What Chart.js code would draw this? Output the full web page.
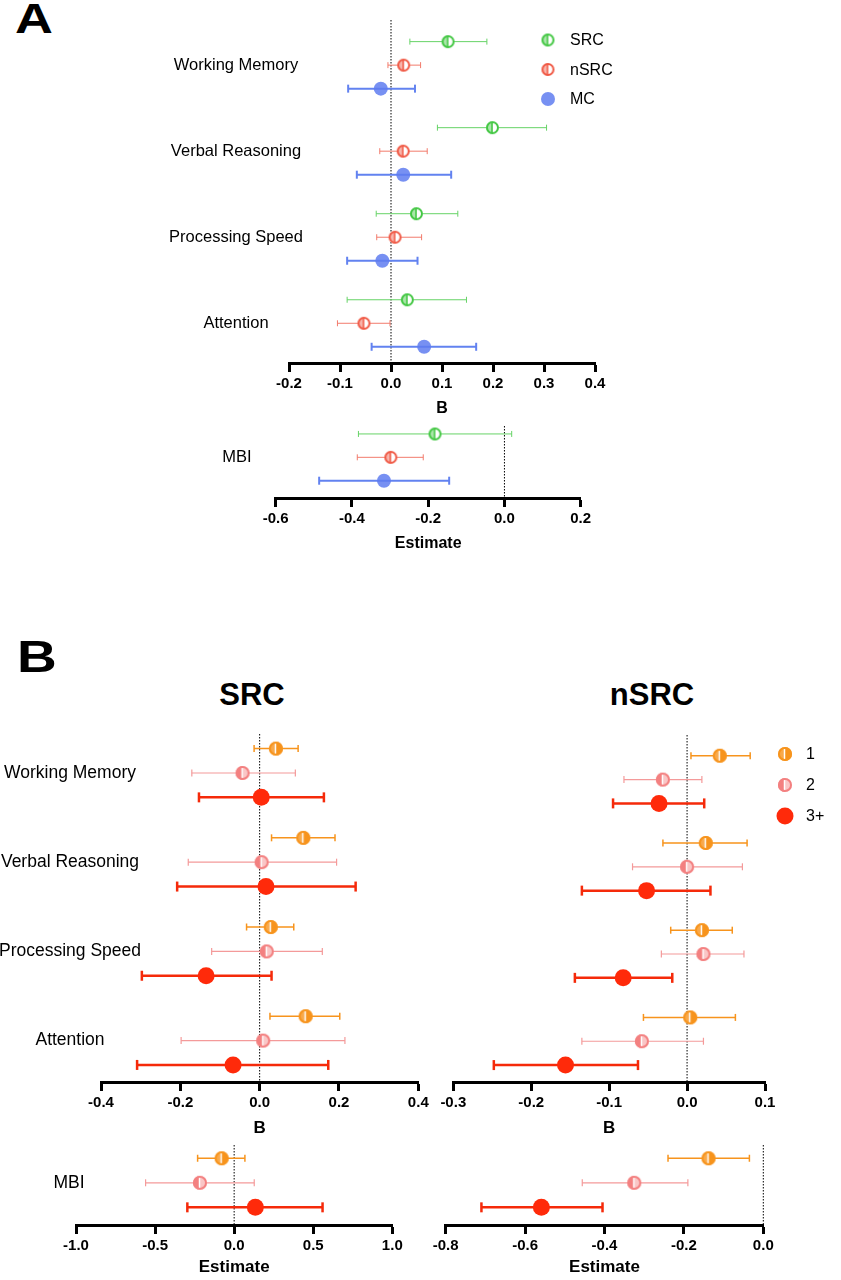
<!DOCTYPE html>
<html><head><meta charset="utf-8">
<script src="https://cdn.jsdelivr.net/npm/chart.js@4/dist/chart.umd.min.js"></script>
<style>
body{margin:0;background:#fff;width:841px;height:1280px;position:relative;overflow:hidden;font-family:"Liberation Sans",Arial,Helvetica,sans-serif;}
canvas{position:absolute;}
.lbl{position:absolute;font-weight:bold;color:#000;line-height:1.2;white-space:nowrap;}
.big{transform:scaleX(1.25);transform-origin:left top;}
</style></head><body>
<div class="lbl big" style="left:15px;top:-6px;font-size:42px">A</div>
<div class="lbl big" style="left:17px;top:631px;font-size:44px">B</div>
<div class="lbl" style="left:152px;width:200px;text-align:center;top:676px;font-size:31px">SRC</div>
<div class="lbl" style="left:552px;width:200px;text-align:center;top:676px;font-size:31px">nSRC</div>
<script>
const FONT = '"Liberation Sans", Arial, Helvetica, sans-serif';

// ---------- categories / series ----------
const categories = ['Working Memory', 'Verbal Reasoning', 'Processing Speed', 'Attention'];
const mbiCategory = ['MBI'];
const seriesA = ['SRC', 'nSRC', 'MC'];
const seriesB = ['1', '2', '3+'];

// ---------- Panel A: cognitive domains (B) ----------
const aSrcEst  = [0.112, 0.199, 0.050, 0.032];
const aSrcLo   = [0.037, 0.091, -0.029, -0.086];
const aSrcHi   = [0.188, 0.305, 0.131, 0.148];
const aNsrcEst = [0.025, 0.024, 0.008, -0.053];
const aNsrcLo  = [-0.006, -0.022, -0.028, -0.105];
const aNsrcHi  = [0.058, 0.071, 0.060, -0.002];
const aMcEst   = [-0.020, 0.024, -0.017, 0.065];
const aMcLo    = [-0.084, -0.067, -0.086, -0.038];
const aMcHi    = [0.047, 0.118, 0.052, 0.167];

// ---------- Panel A: MBI (Estimate) ----------
const aMbiSrcEst = [-0.182],  aMbiSrcLo = [-0.383],  aMbiSrcHi = [0.019];
const aMbiNsrcEst = [-0.298], aMbiNsrcLo = [-0.386], aMbiNsrcHi = [-0.213];
const aMbiMcEst = [-0.316],   aMbiMcLo = [-0.486],   aMbiMcHi = [-0.145];

// ---------- Panel B: SRC by number of concussions ----------
const bSrc1Est = [0.041, 0.110, 0.028, 0.116];
const bSrc1Lo  = [-0.014, 0.030, -0.033, 0.026];
const bSrc1Hi  = [0.097, 0.190, 0.086, 0.202];
const bSrc2Est = [-0.043, 0.005, 0.018, 0.009];
const bSrc2Lo  = [-0.171, -0.180, -0.121, -0.198];
const bSrc2Hi  = [0.090, 0.194, 0.158, 0.215];
const bSrc3Est = [0.004, 0.016, -0.135, -0.067];
const bSrc3Lo  = [-0.153, -0.208, -0.297, -0.309];
const bSrc3Hi  = [0.162, 0.242, 0.030, 0.173];
const bSrcMbi1Est = [-0.079], bSrcMbi1Lo = [-0.231], bSrcMbi1Hi = [0.068];
const bSrcMbi2Est = [-0.216], bSrcMbi2Lo = [-0.560], bSrcMbi2Hi = [0.127];
const bSrcMbi3Est = [0.134],  bSrcMbi3Lo = [-0.296], bSrcMbi3Hi = [0.559];

// ---------- Panel B: nSRC by number of concussions ----------
const bNsrc1Est = [0.042, 0.024, 0.019, 0.004];
const bNsrc1Lo  = [0.005, -0.031, -0.021, -0.056];
const bNsrc1Hi  = [0.081, 0.077, 0.058, 0.062];
const bNsrc2Est = [-0.031, 0.000, 0.021, -0.058];
const bNsrc2Lo  = [-0.081, -0.070, -0.033, -0.135];
const bNsrc2Hi  = [0.019, 0.071, 0.073, 0.021];
const bNsrc3Est = [-0.036, -0.052, -0.082, -0.156];
const bNsrc3Lo  = [-0.095, -0.135, -0.144, -0.248];
const bNsrc3Hi  = [0.022, 0.030, -0.019, -0.063];
const bNsrcMbi1Est = [-0.138], bNsrcMbi1Lo = [-0.240], bNsrcMbi1Hi = [-0.035];
const bNsrcMbi2Est = [-0.325], bNsrcMbi2Lo = [-0.456], bNsrcMbi2Hi = [-0.190];
const bNsrcMbi3Est = [-0.559], bNsrcMbi3Lo = [-0.710], bNsrcMbi3Hi = [-0.405];

// ---------- tick values ----------
const ticksAMain = [-0.2, -0.1, 0.0, 0.1, 0.2, 0.3, 0.4];
const ticksAMbi  = [-0.6, -0.4, -0.2, 0.0, 0.2];
const ticksBSrc  = [-0.4, -0.2, 0.0, 0.2, 0.4];
const ticksBSrcMbi = [-1.0, -0.5, 0.0, 0.5, 1.0];
const ticksBNsrc = [-0.3, -0.2, -0.1, 0.0, 0.1];
const ticksBNsrcMbi = [-0.8, -0.6, -0.4, -0.2, 0.0];

// ---------- styling ----------
const GROUP_STEP = 3.66;
function rowY(g, s) { return g * GROUP_STEP + s; }

function halfMarker(color, r, leftA, rightA, lineCol) {
  const S = Math.ceil(2 * r + 4);
  const c = document.createElement('canvas');
  c.width = S; c.height = S;
  const x = c.getContext('2d');
  const cx = S / 2, cy = S / 2;
  x.save();
  x.beginPath(); x.arc(cx, cy, r, 0, 2 * Math.PI); x.clip();
  x.fillStyle = '#fff'; x.fillRect(0, 0, S, S);
  x.fillStyle = color;
  x.globalAlpha = leftA; x.fillRect(0, 0, cx, S);
  x.globalAlpha = rightA; x.fillRect(cx, 0, S - cx, S);
  x.restore();
  x.globalAlpha = 1;
  x.strokeStyle = lineCol; x.lineWidth = 1.5;
  x.beginPath(); x.moveTo(cx - 0.5, cy - r + 1.5); x.lineTo(cx - 0.5, cy + r - 1.5); x.stroke();
  x.strokeStyle = color; x.lineWidth = 2;
  x.beginPath(); x.arc(cx, cy, r - 1, 0, 2 * Math.PI); x.stroke();
  return c;
}

const STY = {
  SRC:  { color: '#43c743', marker: halfMarker('#43c743', 6.5, 0.45, 0, '#43c743'), r: 6.5, wCol: '#66d366', w: 1, cap: 3 },
  nSRC: { color: '#f05a46', marker: halfMarker('#f05a46', 6.5, 0.45, 0, '#f05a46'), r: 6.5, wCol: '#f27b6c', w: 1, cap: 3 },
  MC:   { color: 'rgba(95,125,240,0.85)', marker: 'circle', r: 7, wCol: '#6282f0', w: 2, cap: 4 },
  '1':  { color: '#f7941d', marker: halfMarker('#f7941d', 7, 0.8, 1, '#ffffff'), r: 7, wCol: '#f7941d', w: 1.5, cap: 3.5 },
  '2':  { color: '#f38080', marker: halfMarker('#f38080', 7, 1, 0.45, '#ffffff'), r: 7, wCol: '#f49a9a', w: 1.2, cap: 3.5 },
  '3+': { color: '#ff2a0a', marker: 'circle', r: 8.5, wCol: '#f52a0a', w: 2.5, cap: 5 }
};

function fmt(v) { return Number(v).toFixed(1); }

function forestChart(cfg) {
  const H = cfg.axisY + cfg.axisH - cfg.plotTop;
  const cv = document.createElement('canvas');
  cv.width = cfg.canvasWidth; cv.height = H;
  cv.style.left = cfg.canvasLeft + 'px'; cv.style.top = cfg.plotTop + 'px';
  document.body.appendChild(cv);

  const datasets = [];
  datasets.push({
    type: 'line', label: 'zero', data: [{ x: 0, y: cfg.yMin }, { x: 0, y: cfg.yMax }],
    borderColor: '#000', borderWidth: 1, borderDash: [1.5, 1.5], pointRadius: 0, order: 3, clip: false
  });
  cfg.series.forEach((s, si) => {
    const st = STY[s.label];
    const wd = [];
    s.est.forEach((v, i) => {
      const y = rowY(i, si);
      wd.push({ x: s.lo[i], y: y }, { x: s.hi[i], y: y }, { x: null, y: null });
    });
    datasets.push({
      type: 'line', label: s.label + ' CI', data: wd, spanGaps: false,
      borderColor: st.wCol, borderWidth: st.w,
      pointStyle: 'line', pointRotation: 90, pointRadius: st.cap,
      pointBorderColor: st.wCol, pointBorderWidth: st.w, pointBackgroundColor: st.wCol,
      order: 2, clip: false
    });
    datasets.push({
      type: 'line', label: s.label, showLine: false,
      data: s.est.map((v, i) => ({ x: v, y: rowY(i, si) })),
      pointStyle: st.marker, pointRadius: st.r,
      pointBackgroundColor: st.color, pointBorderWidth: 0, pointBorderColor: st.color,
      order: 1, clip: false
    });
  });

  const labelPlugin = {
    id: 'labels',
    afterDraw(chart) {
      const ctx = chart.ctx;
      const ys = chart.scales.y;
      ctx.save();
      ctx.fillStyle = '#000';
      ctx.font = cfg.catFont + 'px ' + FONT;
      ctx.textAlign = 'center'; ctx.textBaseline = 'middle';
      cfg.cats.forEach((c, g) => {
        ctx.fillText(c, cfg.catX - cfg.canvasLeft, ys.getPixelForValue(rowY(g, 1)));
      });
      if (cfg.legend) {
        const L = cfg.legend;
        ctx.font = L.font + 'px ' + FONT;
        ctx.textAlign = 'left';
        cfg.series.forEach((s, i) => {
          const st = STY[s.label];
          const mx = L.x - cfg.canvasLeft, my = L.y - cfg.plotTop + i * L.dy;
          if (st.marker === 'circle') {
            ctx.fillStyle = st.color;
            ctx.beginPath(); ctx.arc(mx, my, st.r, 0, 2 * Math.PI); ctx.fill();
          } else {
            ctx.drawImage(st.marker, mx - st.marker.width / 2, my - st.marker.height / 2);
          }
          ctx.fillStyle = '#000';
          ctx.fillText(s.label, L.tx - cfg.canvasLeft, my + 1);
        });
      }
      ctx.restore();
    }
  };

  new Chart(cv, {
    type: 'line',
    data: { datasets: datasets },
    plugins: [labelPlugin],
    options: {
      responsive: false, animation: false, devicePixelRatio: 1, events: [],
      layout: { autoPadding: false, padding: { left: cfg.plotLeft - cfg.canvasLeft, right: cfg.canvasLeft + cfg.canvasWidth - cfg.plotRight, top: 0, bottom: 0 } },
      plugins: { legend: { display: false }, tooltip: { enabled: false } },
      scales: {
        x: {
          type: 'linear', position: 'bottom',
          min: cfg.ticks[0], max: cfg.ticks[cfg.ticks.length - 1],
          afterBuildTicks: (sc) => { sc.ticks = cfg.ticks.map(v => ({ value: v })); },
          afterFit: (sc) => { sc.height = cfg.axisH; },
          grid: { display: true, drawOnChartArea: false, drawTicks: true, tickLength: 9, tickWidth: 3, tickColor: '#000' },
          border: { display: true, color: '#000', width: 3 },
          ticks: { color: '#000', font: { family: FONT, size: 15, weight: 'bold' }, padding: 3, autoSkip: false, maxRotation: 0, callback: (v) => fmt(v) },
          title: { display: true, text: cfg.title, color: '#000', font: { family: FONT, size: cfg.titleSize, weight: 'bold' }, padding: 0 }
        },
        y: { type: 'linear', reverse: true, min: cfg.yMin, max: cfg.yMax, display: false }
      }
    }
  });
}

// Panel A main
forestChart({
  canvasLeft: 150, canvasWidth: 475, plotLeft: 289, plotRight: 595, plotTop: 20, axisY: 363, axisH: 55,
  yMin: -0.92, yMax: 13.67, ticks: ticksAMain, cats: categories, catX: 236, catFont: 16.5,
  title: 'B', titleSize: 16,
  series: [
    { label: seriesA[0], est: aSrcEst, lo: aSrcLo, hi: aSrcHi },
    { label: seriesA[1], est: aNsrcEst, lo: aNsrcLo, hi: aNsrcHi },
    { label: seriesA[2], est: aMcEst, lo: aMcLo, hi: aMcHi }
  ],
  legend: { x: 548, y: 40, dy: 29.5, tx: 570, font: 16 }
});
// Panel A MBI
forestChart({
  canvasLeft: 150, canvasWidth: 470, plotLeft: 275.7, plotRight: 580.7, plotTop: 426, axisY: 498, axisH: 55,
  yMin: -0.34, yMax: 2.74, ticks: ticksAMbi, cats: mbiCategory, catX: 237, catFont: 16.5,
  title: 'Estimate', titleSize: 16,
  series: [
    { label: seriesA[0], est: aMbiSrcEst, lo: aMbiSrcLo, hi: aMbiSrcHi },
    { label: seriesA[1], est: aMbiNsrcEst, lo: aMbiNsrcLo, hi: aMbiNsrcHi },
    { label: seriesA[2], est: aMbiMcEst, lo: aMbiMcLo, hi: aMbiMcHi }
  ]
});
// Panel B SRC main
forestChart({
  canvasLeft: 0, canvasWidth: 440, plotLeft: 101, plotRight: 418.3, plotTop: 734, axisY: 1082.7, axisH: 57,
  yMin: -0.6, yMax: 13.68, ticks: ticksBSrc, cats: categories, catX: 70, catFont: 17.5,
  title: 'B', titleSize: 17,
  series: [
    { label: seriesB[0], est: bSrc1Est, lo: bSrc1Lo, hi: bSrc1Hi },
    { label: seriesB[1], est: bSrc2Est, lo: bSrc2Lo, hi: bSrc2Hi },
    { label: seriesB[2], est: bSrc3Est, lo: bSrc3Lo, hi: bSrc3Hi }
  ]
});
// Panel B SRC MBI
forestChart({
  canvasLeft: 0, canvasWidth: 420, plotLeft: 76, plotRight: 392.3, plotTop: 1145, axisY: 1225, axisH: 53,
  yMin: -0.54, yMax: 2.72, ticks: ticksBSrcMbi, cats: mbiCategory, catX: 69, catFont: 17.5,
  title: 'Estimate', titleSize: 17,
  series: [
    { label: seriesB[0], est: bSrcMbi1Est, lo: bSrcMbi1Lo, hi: bSrcMbi1Hi },
    { label: seriesB[1], est: bSrcMbi2Est, lo: bSrcMbi2Lo, hi: bSrcMbi2Hi },
    { label: seriesB[2], est: bSrcMbi3Est, lo: bSrcMbi3Lo, hi: bSrcMbi3Hi }
  ]
});
// Panel B nSRC main
forestChart({
  canvasLeft: 430, canvasWidth: 411, plotLeft: 453.3, plotRight: 765, plotTop: 735, axisY: 1082.7, axisH: 57,
  yMin: -0.87, yMax: 13.69, ticks: ticksBNsrc, cats: [], catX: 0, catFont: 17.5,
  title: 'B', titleSize: 17,
  series: [
    { label: seriesB[0], est: bNsrc1Est, lo: bNsrc1Lo, hi: bNsrc1Hi },
    { label: seriesB[1], est: bNsrc2Est, lo: bNsrc2Lo, hi: bNsrc2Hi },
    { label: seriesB[2], est: bNsrc3Est, lo: bNsrc3Lo, hi: bNsrc3Hi }
  ],
  legend: { x: 785, y: 754, dy: 31, tx: 806, font: 16 }
});
// Panel B nSRC MBI
forestChart({
  canvasLeft: 420, canvasWidth: 421, plotLeft: 445.7, plotRight: 763.3, plotTop: 1145, axisY: 1225, axisH: 53,
  yMin: -0.54, yMax: 2.72, ticks: ticksBNsrcMbi, cats: [], catX: 0, catFont: 17.5,
  title: 'Estimate', titleSize: 17,
  series: [
    { label: seriesB[0], est: bNsrcMbi1Est, lo: bNsrcMbi1Lo, hi: bNsrcMbi1Hi },
    { label: seriesB[1], est: bNsrcMbi2Est, lo: bNsrcMbi2Lo, hi: bNsrcMbi2Hi },
    { label: seriesB[2], est: bNsrcMbi3Est, lo: bNsrcMbi3Lo, hi: bNsrcMbi3Hi }
  ]
});
</script>
</body></html>
